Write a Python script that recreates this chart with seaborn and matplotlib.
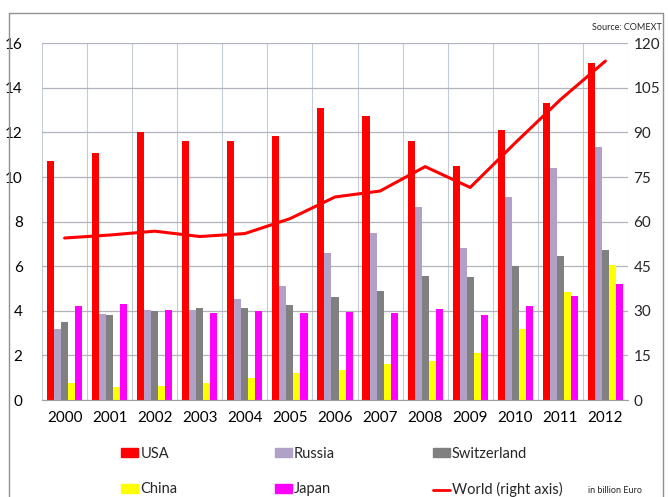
import numpy as np
import pandas as pd
import matplotlib
matplotlib.use("Agg")
import matplotlib.pyplot as plt
import seaborn as sns
from matplotlib.patches import Patch
from matplotlib.lines import Line2D

years = [str(y) for y in range(2000, 2013)]
usa = [10.7, 11.1, 12.0, 11.6, 11.6, 11.85, 13.1, 12.75, 11.6, 10.5, 12.1, 13.3, 15.1]
russia = [3.2, 3.85, 4.05, 4.05, 4.55, 5.1, 6.6, 7.5, 8.65, 6.8, 9.1, 10.4, 11.35]
switzerland = [3.5, 3.8, 4.0, 4.15, 4.15, 4.25, 4.6, 4.9, 5.55, 5.5, 6.0, 6.45, 6.75]
china = [0.75, 0.6, 0.65, 0.75, 1.0, 1.2, 1.35, 1.6, 1.75, 2.1, 3.2, 4.85, 6.05]
japan = [4.2, 4.3, 4.05, 3.9, 4.0, 3.9, 3.95, 3.9, 4.1, 3.8, 4.2, 4.65, 5.2]
world = [54.5, 55.5, 56.8, 55.0, 56.0, 61.0, 68.3, 70.3, 78.5, 71.5, 86.5, 101.0, 114.0]

countries = ["USA", "Russia", "Switzerland", "China", "Japan"]
colors = ["#FF0000", "#B1A0C7", "#808080", "#FFFF00", "#FF00FF"]

df = pd.DataFrame({"year": years, "USA": usa, "Russia": russia,
                   "Switzerland": switzerland, "China": china, "Japan": japan})
long = df.melt(id_vars="year", var_name="country", value_name="value")

sns.set_style("white")
plt.rcParams['font.family'] = ['Lato', 'DejaVu Sans']

fig = plt.figure(figsize=(6.68, 4.97), dpi=100)
ax = fig.add_axes([0.063, 0.195, 0.877, 0.718])

sns.barplot(data=long, x="year", y="value", hue="country", hue_order=countries,
            palette=colors, width=0.78, saturation=1, ax=ax, legend=False)
for p in ax.patches:
    p.set_edgecolor("none")

ax.set_ylim(0, 16)
ax.set_yticks(range(0, 17, 2))
ax.set_xlim(-0.5, len(years) - 0.5)
ax.set_xlabel("")
ax.set_ylabel("")
ax.set_xticks(np.arange(-0.5, len(years), 1), minor=True)
ax.grid(True, axis="y", color="#B0B4BC", lw=0.9)
ax.grid(True, axis="x", which="minor", color="#C4CCDA", lw=0.8)
ax.grid(False, axis="x", which="major")
ax.set_axisbelow(True)
for s in ["left", "right", "top"]:
    ax.spines[s].set_visible(False)
ax.spines["bottom"].set_color("#A0A0A0")
ax.tick_params(axis="both", length=0, labelsize=11, colors="#000000")
ax.tick_params(axis="x", pad=8)
ax.tick_params(axis="y", pad=14)

ax2 = ax.twinx()
sns.lineplot(x=np.arange(len(years)), y=world, color="#FF0000", lw=2.2, ax=ax2)
ax2.set_ylim(0, 120)
ax2.set_yticks(range(0, 121, 15))
for s in ["left", "right", "top", "bottom"]:
    ax2.spines[s].set_visible(False)
ax2.tick_params(axis="y", length=0, labelsize=11, pad=4)

handles = [Patch(color=colors[0], label="USA"), Patch(color=colors[3], label="China"),
           Patch(color=colors[1], label="Russia"), Patch(color=colors[4], label="Japan"),
           Patch(color=colors[2], label="Switzerland"),
           Line2D([], [], color="#FF0000", lw=2, label="World (right axis)")]
fig.legend(handles=handles, ncol=3, loc="upper left", bbox_to_anchor=(0.162, 0.128),
           frameon=False, fontsize=10.5, handlelength=1.15, handleheight=0.6,
           handletextpad=0.15, columnspacing=6.7, labelspacing=1.5)
fig.text(0.88, 0.014, "in billion Euro", fontsize=6.5, va="center")
fig.text(0.99, 0.935, "Source: COMEXT", fontsize=6.5, ha="right", va="bottom")

# outer frame
fig.add_artist(Line2D([0.013, 0.013, 0.993, 0.993], [0.0, 0.974, 0.974, 0.0],
                      color="#909090", lw=1, transform=fig.transFigure))

fig.savefig("out.png", dpi=100)
